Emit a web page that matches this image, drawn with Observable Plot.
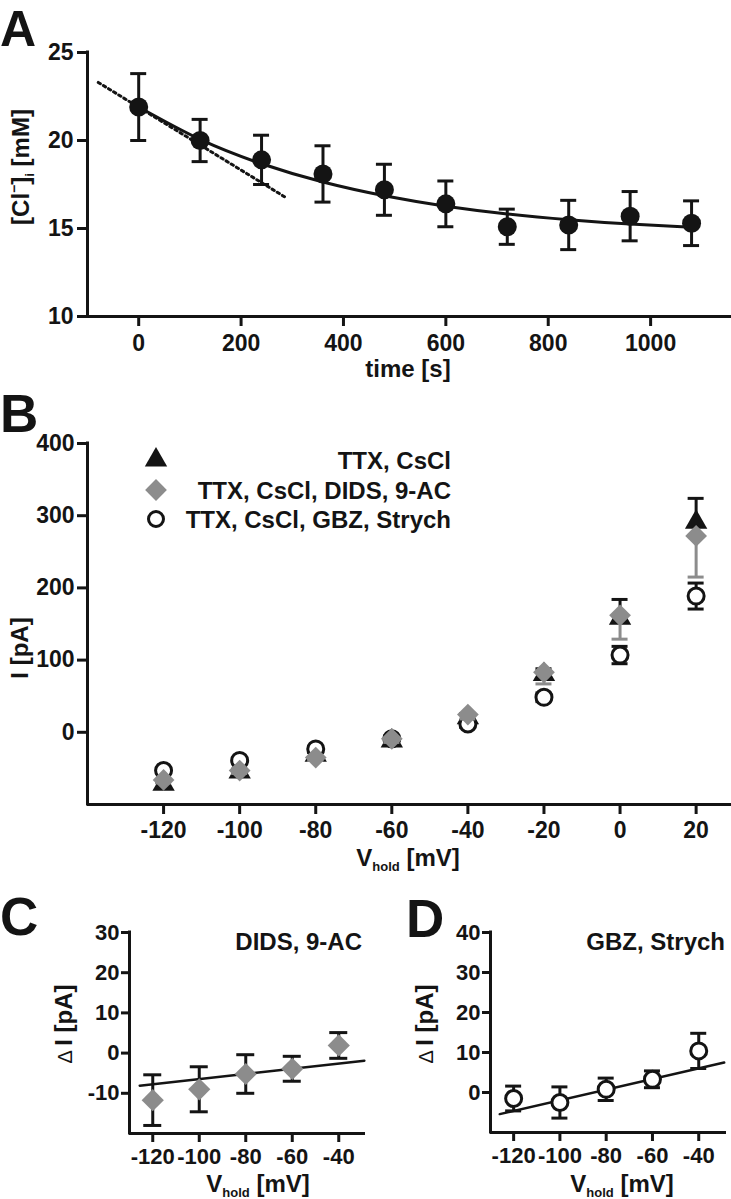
<!DOCTYPE html>
<html><head><meta charset="utf-8">
<script src="https://cdn.jsdelivr.net/npm/d3@7"></script>
<script src="https://cdn.jsdelivr.net/npm/@observablehq/plot@0.6"></script>
<style>
html,body{margin:0;padding:0;background:#fff;}
#page{position:relative;width:731px;height:1199px;overflow:hidden;background:#fff;}
#page svg{position:absolute;overflow:visible;}
</style></head><body><div id="page"></div>
<script>
const FONT = '"Liberation Sans", Arial, Helvetica, sans-serif';
const INK = "#141414";
const GREY = "#8c8c8c";

// ---------- Panel A data ----------
const timeS = [0, 120, 240, 360, 480, 600, 720, 840, 960, 1080];
const clMean = [21.9, 20.0, 18.9, 18.1, 17.2, 16.4, 15.1, 15.2, 15.7, 15.3];
const clSem = [1.9, 1.2, 1.4, 1.6, 1.45, 1.3, 1.0, 1.4, 1.4, 1.27];
const fitTime = [0, 120, 240, 360, 480, 600, 720, 840, 960, 1080];
const fitCl = [21.9, 20.06, 18.68, 17.64, 16.86, 16.27, 15.83, 15.5, 15.25, 15.07];
const tangentTime = [-79, 289];
const tangentCl = [23.3, 16.73];
const ticksAx = [0, 200, 400, 600, 800, 1000];
const ticksAy = [10, 15, 20, 25];

// ---------- Panel B data ----------
const vHold = [-120, -100, -80, -60, -40, -20, 0, 20];
const iCsCl = [-72, -55, -32, -12, 20, 80, 158, 291];
const semCsCl = [4, 4, 4, 5, 6, 8, 26, 33];
const iDids = [-66, -53, -35, -9, 24.5, 83, 162, 272];
const semDids = [4, 4, 4, 5, 6, 16, 33, 57];
const iGbz = [-53, -39, -23, -9, 11.6, 48.5, 107, 188.7];
const semGbz = [3, 3, 3, 4, 5, 6, 12, 18];
const legendLabels = ["TTX, CsCl", "TTX, CsCl, DIDS, 9-AC", "TTX, CsCl, GBZ, Strych"];
const ticksBx = [-120, -100, -80, -60, -40, -20, 0, 20];
const ticksBy = [0, 100, 200, 300, 400];

// ---------- Panels C & D data ----------
const vDelta = [-120, -100, -80, -60, -40];
const dIDids = [-11.7, -9.0, -5.2, -3.9, 1.9];
const semDIDids = [6.3, 5.6, 4.8, 3.1, 3.2];
const fitDidsV = [-125.6, -29];
const fitDidsI = [-8.1, -1.9];
const dIGbz = [-1.5, -2.5, 0.8, 3.3, 10.4];
const semDIGbz = [3.1, 3.9, 2.8, 2.1, 4.4];
const fitGbzV = [-126, -29];
const fitGbzI = [-5.4, 7.5];
const ticksCDx = [-120, -100, -80, -60, -40];
const ticksCy = [-10, 0, 10, 20, 30];
const ticksDy = [0, 10, 20, 30, 40];

const page = document.getElementById("page");
const styleFor = size => ({fontFamily: FONT, fontSize: size + "px", fontWeight: "bold", color: INK, background: "transparent", overflow: "visible"});
const fmt = d => String(d);

function place(svg, left, top) {
  svg.style.position = "absolute";
  svg.style.left = left + "px";
  svg.style.top = top + "px";
  page.appendChild(svg);
  return d3.select(svg);
}
function addText(sel, x, y, txt, opts = {}) {
  return sel.append("text").attr("x", x).attr("y", y)
    .attr("text-anchor", opts.anchor || "start")
    .attr("font-family", FONT).attr("font-weight", "bold")
    .attr("font-size", opts.size || 24).attr("fill", INK).text(txt);
}
function letter(sel, x, y, txt, size = 53) { addText(sel, x, y, txt, {size}); }
function vholdLabel(sel, cx, y) {
  const t = sel.append("text").attr("x", cx).attr("y", y).attr("text-anchor", "middle")
    .attr("font-family", FONT).attr("font-weight", "bold").attr("font-size", 24).attr("fill", INK);
  t.append("tspan").text("V");
  t.append("tspan").attr("font-size", 13).attr("dy", 5).text("hold");
  t.append("tspan").attr("dy", -5).text(" [mV]");
}
function deltaLabel(sel, x, cy) {
  const t = sel.append("text").attr("transform", `translate(${x},${cy}) rotate(-90)`).attr("text-anchor", "middle")
    .attr("font-family", FONT).attr("font-weight", "bold").attr("font-size", 24).attr("fill", INK);
  t.append("tspan").attr("font-weight", "normal").attr("font-size", 20).text("\u0394 ");
  t.append("tspan").text("I [pA]");
}
function errBars(data, x, lo, hi, color, w, half) {
  return [
    Plot.ruleX(data, {x, y1: lo, y2: hi, stroke: color, strokeWidth: w}),
    Plot.ruleY(data, {y: hi, x1: x, x2: x, insetLeft: -half, insetRight: -half, stroke: color, strokeWidth: w}),
    Plot.ruleY(data, {y: lo, x1: x, x2: x, insetLeft: -half, insetRight: -half, stroke: color, strokeWidth: w})
  ];
}

// ---------- Panel A ----------
const dataA = timeS.map((t, i) => ({t, c: clMean[i], s: clSem[i]}));
const fitA = fitTime.map((t, i) => ({t, c: fitCl[i]}));
const tanA = tangentTime.map((t, i) => ({t, c: tangentCl[i]}));
const plotA = Plot.plot({
  width: 731, height: 400, marginLeft: 87, marginRight: 0, marginTop: 52, marginBottom: 84,
  x: {domain: [-100, 1158]}, y: {domain: [10, 25]},
  style: styleFor(23),
  marks: [
    Plot.line(tanA, {x: "t", y: "c", stroke: INK, strokeWidth: 3, strokeDasharray: "2.5,3.5"}),
    Plot.line(fitA, {x: "t", y: "c", curve: "natural", stroke: INK, strokeWidth: 3}),
    ...errBars(dataA, "t", d => d.c - d.s, d => d.c + d.s, INK, 3, 8),
    Plot.dot(dataA, {x: "t", y: "c", r: 9.5, fill: INK, stroke: "none"}),
    Plot.ruleX([-100], {stroke: INK, strokeWidth: 3, strokeLinecap: "square"}),
    Plot.ruleY([10], {stroke: INK, strokeWidth: 3}),
    Plot.axisX({ticks: ticksAx, tickFormat: fmt, tickSize: 10, tickPadding: 8, strokeWidth: 3, label: null}),
    Plot.axisY({ticks: ticksAy, tickFormat: fmt, tickSize: 10, tickPadding: 4, strokeWidth: 3, label: null})
  ]
});
const sA = place(plotA, 0, 0);
letter(sA, 0, 46, "A", 50);
addText(sA, 408, 377, "time [s]", {anchor: "middle"});
{
  const t = sA.append("text").attr("transform", "translate(29,167) rotate(-90)").attr("text-anchor", "middle")
    .attr("font-family", FONT).attr("font-weight", "bold").attr("font-size", 24).attr("fill", INK);
  t.append("tspan").text("[Cl");
  t.append("tspan").attr("font-size", 14).attr("dy", -10).text("\u2212");
  t.append("tspan").attr("dy", 10).text("]");
  t.append("tspan").attr("font-size", 13).attr("dy", 5).text("i");
  t.append("tspan").attr("dy", -5).text(" [mM]");
}

// ---------- Panel B ----------
const rows = vHold.map((v, i) => ({v, a: iCsCl[i], sa: semCsCl[i], b: iDids[i], sb: semDids[i], c: iGbz[i], sc: semGbz[i]}));
const plotB = Plot.plot({
  width: 731, height: 480, marginLeft: 87, marginRight: 0, marginTop: 53, marginBottom: 66,
  x: {domain: [-140, 29.3]}, y: {domain: [-100, 400]},
  style: styleFor(23),
  marks: [
    // TTX, CsCl (upward bars)
    Plot.ruleX(rows, {x: "v", y1: "a", y2: d => d.a + d.sa, stroke: INK, strokeWidth: 3}),
    Plot.ruleY(rows, {y: d => d.a + d.sa, x1: "v", x2: "v", insetLeft: -8, insetRight: -8, stroke: INK, strokeWidth: 3}),
    Plot.dot(rows, {x: "v", y: "a", symbol: "triangle", r: 8.3, fill: INK, stroke: "none"}),
    // GBZ, Strych (both directions)
    ...errBars(rows, "v", d => d.c - d.sc, d => d.c + d.sc, INK, 3, 8),
    Plot.dot(rows, {x: "v", y: "c", r: 8, fill: "white", stroke: INK, strokeWidth: 3}),
    // DIDS, 9-AC (downward bars)
    Plot.ruleX(rows, {x: "v", y1: d => d.b - d.sb, y2: "b", stroke: GREY, strokeWidth: 3}),
    Plot.ruleY(rows, {y: d => d.b - d.sb, x1: "v", x2: "v", insetLeft: -8, insetRight: -8, stroke: GREY, strokeWidth: 3}),
    Plot.dot(rows, {x: "v", y: "b", symbol: "diamond2", r: 9.8, fill: GREY, stroke: "none"}),
    Plot.ruleX([-140], {stroke: INK, strokeWidth: 3, strokeLinecap: "square"}),
    Plot.ruleY([-100], {stroke: INK, strokeWidth: 3}),
    Plot.axisX({ticks: ticksBx, tickFormat: fmt, tickSize: 10, tickPadding: 7, strokeWidth: 3, label: null}),
    Plot.axisY({ticks: ticksBy, tickFormat: fmt, tickSize: 10, tickPadding: 3, strokeWidth: 3, label: null})
  ]
});
const sB = place(plotB, 0, 390);
letter(sB, 0, 42, "B");
vholdLabel(sB, 408, 476);
sB.append("text").attr("transform", "translate(28,258) rotate(-90)").attr("text-anchor", "middle")
  .attr("font-family", FONT).attr("font-weight", "bold").attr("font-size", 24).attr("fill", INK).text("I [pA]");
{
  const syms = [
    {type: d3.symbolTriangle, r: 8.3, fill: INK, stroke: "none", sw: 0},
    {type: d3.symbolDiamond2, r: 9.8, fill: GREY, stroke: "none", sw: 0},
    {type: d3.symbolCircle, r: 7.5, fill: "white", stroke: INK, sw: 3}
  ];
  const ys = [70, 100, 129];
  legendLabels.forEach((lab, i) => {
    const s = syms[i];
    sB.append("path").attr("transform", `translate(156,${ys[i]})`)
      .attr("d", d3.symbol(s.type, Math.PI * s.r * s.r)())
      .attr("fill", s.fill).attr("stroke", s.stroke).attr("stroke-width", s.sw);
    addText(sB, 451, ys[i] + 9, lab, {anchor: "end"});
  });
}

// ---------- Panel C ----------
const dataC = vDelta.map((v, i) => ({v, d: dIDids[i], s: semDIDids[i]}));
const fitC = fitDidsV.map((v, i) => ({v, d: fitDidsI[i]}));
const plotC = Plot.plot({
  width: 366, height: 329, marginLeft: 129, marginRight: 1, marginTop: 62, marginBottom: 66,
  x: {domain: [-130, -28.5]}, y: {domain: [-20, 30]},
  style: styleFor(22),
  marks: [
    Plot.line(fitC, {x: "v", y: "d", stroke: INK, strokeWidth: 2.5}),
    ...errBars(dataC, "v", d => d.d - d.s, d => d.d + d.s, INK, 3, 9),
    Plot.dot(dataC, {x: "v", y: "d", symbol: "diamond2", r: 10, fill: GREY, stroke: "none"}),
    Plot.ruleX([-130], {stroke: INK, strokeWidth: 3, strokeLinecap: "square"}),
    Plot.ruleY([-20], {stroke: INK, strokeWidth: 3}),
    Plot.axisX({ticks: ticksCDx, tickFormat: fmt, tickSize: 9, tickPadding: 6, strokeWidth: 3, label: null}),
    Plot.axisY({ticks: ticksCy, tickFormat: fmt, tickSize: 8, tickPadding: 2, strokeWidth: 3, label: null})
  ]
});
const sC = place(plotC, 0, 870);
letter(sC, 0, 65, "C");
vholdLabel(sC, 258, 322);
deltaLabel(sC, 72, 154);
addText(sC, 362, 80, "DIDS, 9-AC", {anchor: "end"});

// ---------- Panel D ----------
const dataD = vDelta.map((v, i) => ({v, d: dIGbz[i], s: semDIGbz[i]}));
const fitD = fitGbzV.map((v, i) => ({v, d: fitGbzI[i]}));
const plotD = Plot.plot({
  width: 366, height: 329, marginLeft: 125, marginRight: 5, marginTop: 62, marginBottom: 67,
  x: {domain: [-130, -28]}, y: {domain: [-10, 40]},
  style: styleFor(22),
  marks: [
    Plot.line(fitD, {x: "v", y: "d", stroke: INK, strokeWidth: 2.5}),
    ...errBars(dataD, "v", d => d.d - d.s, d => d.d + d.s, INK, 3, 8),
    Plot.dot(dataD, {x: "v", y: "d", r: 8, fill: "white", stroke: INK, strokeWidth: 3}),
    Plot.ruleX([-130], {stroke: INK, strokeWidth: 3, strokeLinecap: "square"}),
    Plot.ruleY([-10], {stroke: INK, strokeWidth: 3}),
    Plot.axisX({ticks: ticksCDx, tickFormat: fmt, tickSize: 9, tickPadding: 6, strokeWidth: 3, label: null}),
    Plot.axisY({ticks: ticksDy, tickFormat: fmt, tickSize: 8, tickPadding: 2, strokeWidth: 3, label: null})
  ]
});
const sD = place(plotD, 365, 870);
letter(sD, 41, 67, "D");
vholdLabel(sD, 257, 322);
deltaLabel(sD, 68, 154);
addText(sD, 360, 80, "GBZ, Strych", {anchor: "end"});
</script>
</body></html>
